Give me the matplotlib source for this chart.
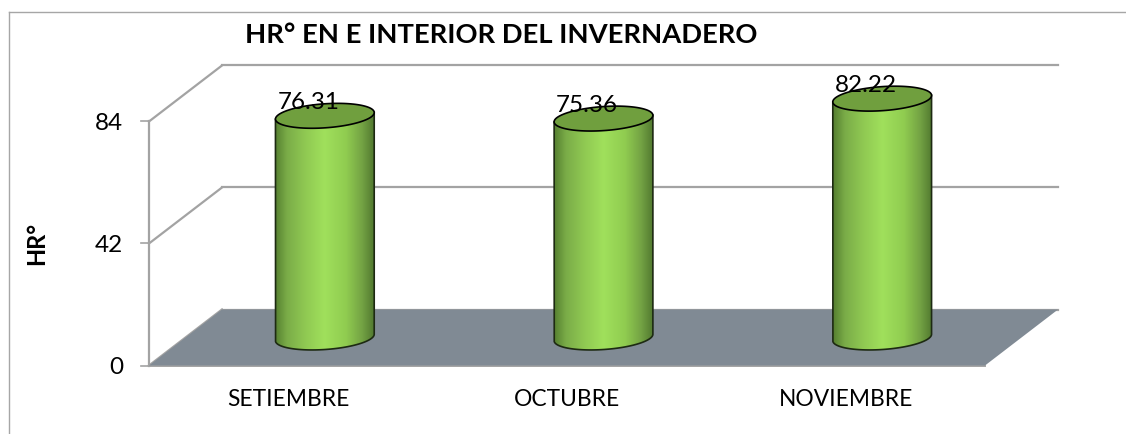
import numpy as np
import matplotlib
matplotlib.use('Agg')
import matplotlib.pyplot as plt
from matplotlib.colors import LinearSegmentedColormap
from matplotlib.patches import PathPatch, Polygon
from matplotlib.path import Path

# Chart data
months = ['SETIEMBRE', 'OCTUBRE', 'NOVIEMBRE']
hr_values = [76.31, 75.36, 82.22]
y_ticks = [0, 42, 84]

title = 'HR° EN E INTERIOR DEL INVERNADERO'
y_label = 'HR°'

plt.rcParams['font.family'] = ['Lato', 'DejaVu Sans']

# Scale of the front plane in pixels
W, H = 1126, 434
X0, Y0 = 149, 365.5
PX_PER_CAT = 278.67
PX_PER_VAL = 2.905
dx = 1 / PX_PER_CAT
dy = 1 / PX_PER_VAL
DEPTH_X, DEPTH_Y = 73 * dx, 56 * dy   # full depth of the 3D box

fig = plt.figure(figsize=(W / 100, H / 100), dpi=100)
ax = fig.add_axes([0, 0, 1, 1])
xlim = (-X0 * dx - 0.5, (W - X0) * dx - 0.5)
ylim = ((Y0 - H) * dy, Y0 * dy)
ax.axis('off')

GRID = '#a3a3a3'
n = len(months)
x_left, x_right = -0.5, n - 0.5

# outer frame, only top and left are visible
ax.plot([xlim[0] + 8.5 * dx, xlim[0] + 8.5 * dx], [ylim[0], ylim[1] - 11.5 * dy], color='#a6a6a6', lw=1)
ax.plot([xlim[0] + 8.5 * dx, xlim[1]], [ylim[1] - 11.5 * dy] * 2, color='#a6a6a6', lw=1)

# floor
floor = Polygon([(x_left, 0), (x_right, 0), (x_right + DEPTH_X, DEPTH_Y), (x_left + DEPTH_X, DEPTH_Y)],
                closed=True, facecolor='#808a94', edgecolor='none', zorder=1.5)
ax.add_patch(floor)
ax.plot([x_left, x_right], [0, 0], color=GRID, lw=1.4, zorder=1)

# walls and tick marks
ax.plot([x_left, x_left], [0, y_ticks[-1]], color=GRID, lw=1.6, zorder=1)
for t in y_ticks:
    ax.plot([x_left - 8 * dx, x_left], [t, t], color=GRID, lw=1.2, zorder=1)
    ax.plot([x_left, x_left + DEPTH_X], [t, t + DEPTH_Y], color=GRID, lw=1.6, zorder=1)
    ax.plot([x_left + DEPTH_X, x_right + DEPTH_X], [t + DEPTH_Y, t + DEPTH_Y], color=GRID, lw=1.6, zorder=1)
    ax.text(x_left - 26 * dx, t - 2 * dy, str(t), ha='right', va='center', fontsize=17.5, color='black')

# cylinders
body_cmap = LinearSegmentedColormap.from_list('body', [
    (0.0, '#557f30'), (0.12, '#7aac48'), (0.3, '#8fc852'), (0.5, '#a0e05c'),
    (0.72, '#90cc50'), (0.88, '#74a344'), (1.0, '#527a30')])
shade = np.linspace(0, 1, 256).reshape(1, -1)

R_X, R_Y = 49.5, 12.0
TILT = np.radians(4.0)
t_par = np.linspace(0, 2 * np.pi, 121)
ex = (R_X * np.cos(t_par) * np.cos(TILT) - R_Y * np.sin(t_par) * np.sin(TILT)) * dx
ey = (R_X * np.cos(t_par) * np.sin(TILT) + R_Y * np.sin(t_par) * np.cos(TILT)) * dy

for i, v in enumerate(hr_values):
    cx = i + DEPTH_X / 2
    base = DEPTH_Y / 2
    top = v + base
    # body outline: top half goes behind the cap, bottom half is the visible base
    i_r = np.argmax(ex)
    i_l = np.argmin(ex)
    low = [k for k in range(len(ex)) if ey[k] - (ex[k] * np.tan(TILT) * dy / dx) <= 0]
    low = sorted(low, key=lambda k: ex[k])
    side_x = cx + ex[low]
    side_y = base + ey[low]
    verts = list(zip(side_x, side_y))
    verts += [(cx + ex[i_r], top + ey[i_r]), (cx + ex[i_l], top + ey[i_l])]
    body = Path(verts + [verts[0]], closed=True)
    patch = PathPatch(body, facecolor='none', edgecolor='#1d2a12', lw=1.2, zorder=3)
    ax.add_patch(patch)
    im = ax.imshow(shade, cmap=body_cmap, aspect='auto', zorder=2.9,
                   extent=[cx + ex.min(), cx + ex.max(), base - 10, top + 5])
    im.set_clip_path(patch)
    ax.fill(cx + ex, top + ey, facecolor='#709f3e', edgecolor='black', lw=1.2, zorder=4)
    ax.text(i + 20 * dx, top + 13.5 * dy, f'{v:.2f}', ha='center', va='center', fontsize=17.5, color='black', zorder=5)
    ax.text(i, -34 * dy, months[i], ha='center', va='center', fontsize=16.4, color='black')

ax.text(xlim[0] + 501.5 * dx, ylim[1] - 35.5 * dy, title, ha='center', va='center', fontsize=19.7, fontweight='bold', color='black')
ax.text(xlim[0] + 37 * dx, ylim[1] - 243 * dy, y_label, rotation=90, ha='center', va='center', fontsize=17, fontweight='bold', color='black')

ax.set_xlim(xlim)
ax.set_ylim(ylim)
fig.savefig('out.png', dpi=100, facecolor='white')
